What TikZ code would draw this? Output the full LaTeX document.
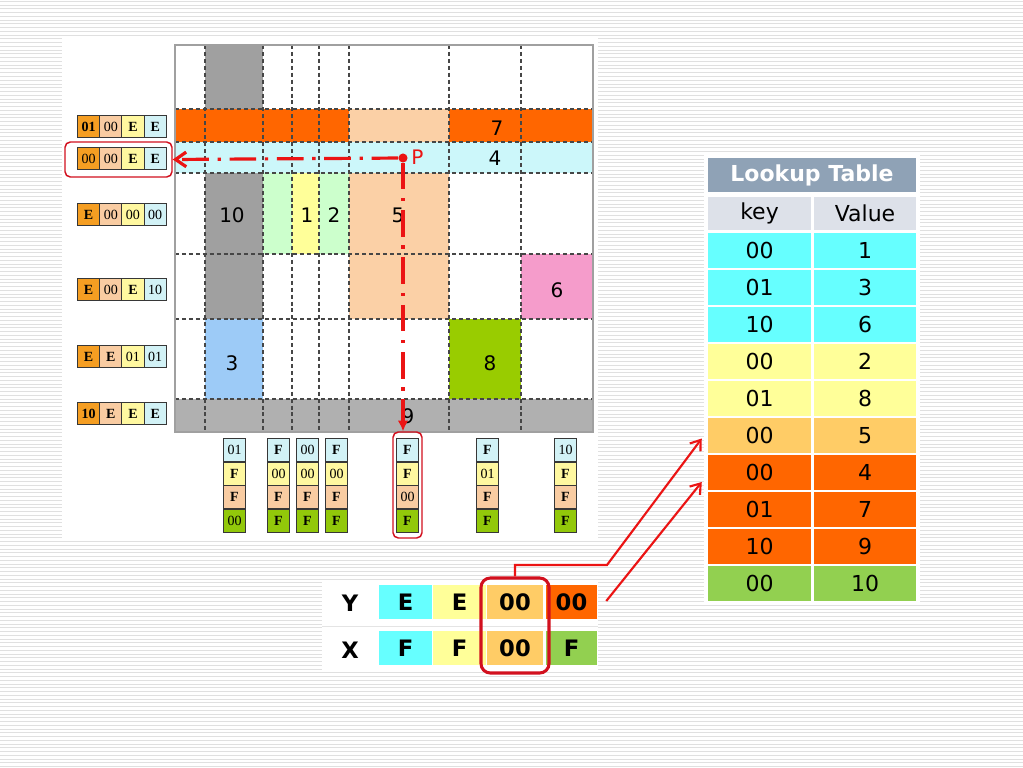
\documentclass[tikz,border=0pt]{standalone}
\usepackage{fontspec}
\setmainfont{Liberation Serif}
\newfontfamily\vfont{DejaVu Sans}
\usetikzlibrary{arrows.meta,calc}
\definecolor{stripe}{RGB}{224,224,224}
\definecolor{cbBorder}{RGB}{55,55,55}
\definecolor{gLine}{RGB}{70,70,70}
\definecolor{gFrame}{RGB}{160,160,160}
\definecolor{rowLine}{RGB}{228,228,228}
\definecolor{cbOr}{RGB}{245,158,34}
\definecolor{cbPe}{RGB}{249,204,162}
\definecolor{cbYe}{RGB}{255,248,160}
\definecolor{cbCy}{RGB}{210,242,246}
\definecolor{cbGr}{RGB}{146,200,10}
\definecolor{gGray}{RGB}{160,160,160}
\definecolor{gGray2}{RGB}{176,176,176}
\definecolor{gOr}{RGB}{255,102,0}
\definecolor{gPe}{RGB}{251,208,166}
\definecolor{gCy}{RGB}{204,247,250}
\definecolor{gLGr}{RGB}{204,255,204}
\definecolor{gYe}{RGB}{255,255,153}
\definecolor{gPk}{RGB}{245,156,203}
\definecolor{gBl}{RGB}{157,203,247}
\definecolor{gGr}{RGB}{153,204,0}
\definecolor{tHd}{RGB}{143,162,182}
\definecolor{tKh}{RGB}{221,225,233}
\definecolor{tCy}{RGB}{102,255,255}
\definecolor{tYe}{RGB}{255,255,153}
\definecolor{tLo}{RGB}{255,204,102}
\definecolor{tOr}{RGB}{255,102,0}
\definecolor{tGr}{RGB}{146,208,80}
\definecolor{selred}{RGB}{210,16,30}
\definecolor{arred}{RGB}{235,20,20}
\begin{document}
\begin{tikzpicture}[x=0.75pt,y=-0.75pt,
  codecell/.style={draw=cbBorder, line width=0.75pt,
    minimum width=16.6pt, minimum height=16.5pt, inner sep=0pt, anchor=north west,
    font=\fontsize{10.5}{10.5}\selectfont},
  colcell/.style={codecell, minimum width=16.5pt, minimum height=17.6pt},
  gridline/.style={draw=gLine, line width=0.8pt, dash pattern=on 3pt off 2.2pt},
  gridnum/.style={font=\vfont\fontsize{15}{15}\selectfont, inner sep=0pt},
  lkcell/.style={draw=white, line width=1.1pt, minimum width=78pt, minimum height=27.75pt,
    inner sep=0pt, font=\vfont\fontsize{16.5}{16.5}\selectfont},
  yxcell/.style={minimum height=25.5pt, inner sep=0pt, font=\vfont\bfseries\fontsize{17}{17}\selectfont},
  selbox/.style={draw=selred, line width=1.1pt, rounded corners=4pt, inner sep=0pt},
  dashdot/.style={draw=arred, line width=2.4pt, dash pattern=on 20pt off 6.5pt on 2.5pt off 6.5pt},
  conn/.style={draw=arred, line width=1.6pt, -{Straight Barb[length=7pt,width=10pt]}}
]
\useasboundingbox (0,0) rectangle (1023,767);
\fill[white] (0,0) rectangle (1023,767);
\foreach \yy in {1.5,5.25,...,767} \draw[stripe, line width=0.75pt] (0,\yy) -- (1023,\yy);
% white panels
\fill[white] (62,37) rectangle (598,540);
\fill[white] (322,580) rectangle (598,670);
\fill[white] (704,154) rectangle (920,605);
% ---------- grid fills ----------
\fill[gGray] (205,45) rectangle (263,109);
\fill[gGray] (205,173) rectangle (263,319);
\fill[gOr] (175,109) rectangle (349,142);
\fill[gPe] (349,109) rectangle (449,142);
\fill[gOr] (449,109) rectangle (593,142);
\fill[gCy] (175,142) rectangle (593,173);
\fill[gLGr] (263,173) rectangle (292,254);
\fill[gYe] (292,173) rectangle (319,254);
\fill[gLGr] (319,173) rectangle (349,254);
\fill[gPe] (349,173) rectangle (449,319);
\fill[gPk] (521,254) rectangle (593,319);
\fill[gBl] (205,319) rectangle (263,399);
\fill[gGr] (449,319) rectangle (521,399);
\fill[gGray2] (175,399) rectangle (593,432);
\foreach \xx in {205,263,292,319,349,449,521} \draw[gridline] (\xx,45) -- (\xx,432);
\foreach \yy in {109,142,173,254,319,399} \draw[gridline] (175,\yy) -- (593,\yy);
\draw[gFrame, line width=1.2pt] (175,45) rectangle (593,432);
% grid labels
\node[gridnum] (n7) at (497,128) {7};
\node[gridnum] (n4) at (495,158) {4};
\node[gridnum] (n10) at (232,215) {10};
\node[gridnum] (n1) at (307,215) {1};
\node[gridnum] (n2) at (334,215) {2};
\node[gridnum] (n5) at (398,215) {5};
\node[gridnum] (n6) at (557,290) {6};
\node[gridnum] (n3) at (232,363) {3};
\node[gridnum] (n8) at (490,363) {8};
\node[gridnum] (n9) at (408,416) {9};
% ---------- left code rows ----------
\foreach \r/\yy/\a/\b/\c/\d in {1/115/\textbf{01}/00/\textbf{E}/\textbf{E},
  2/147/00/00/\textbf{E}/\textbf{E},
  3/203/\textbf{E}/00/00/00,
  4/278/\textbf{E}/00/\textbf{E}/10,
  5/345/\textbf{E}/\textbf{E}/01/01,
  6/402/\textbf{10}/\textbf{E}/\textbf{E}/\textbf{E}}{
  \node[codecell, fill=cbOr] (L\r c1) at (77,\yy) {\a};
  \node[codecell, fill=cbPe] (L\r c2) at (99.2,\yy) {\b};
  \node[codecell, fill=cbYe] (L\r c3) at (121.4,\yy) {\c};
  \node[codecell, fill=cbCy] (L\r c4) at (143.6,\yy) {\d};
}
% ---------- bottom code columns ----------
\foreach \k/\xx/\a/\b/\c/\d in {1/223/01/\textbf{F}/\textbf{F}/00,
  2/267/\textbf{F}/00/\textbf{F}/\textbf{F},
  3/296/00/00/\textbf{F}/\textbf{F},
  4/325/\textbf{F}/00/\textbf{F}/\textbf{F},
  5/396/\textbf{F}/\textbf{F}/00/\textbf{F},
  6/476/\textbf{F}/01/\textbf{F}/\textbf{F},
  7/554/10/\textbf{F}/\textbf{F}/\textbf{F}}{
  \node[colcell, fill=cbCy] (B\k r1) at (\xx,438) {\a};
  \node[colcell, fill=cbYe] (B\k r2) at (\xx,461.5) {\b};
  \node[colcell, fill=cbPe] (B\k r3) at (\xx,485) {\c};
  \node[colcell, fill=cbGr] (B\k r4) at (\xx,508.5) {\d};
}
% selection boxes
\node[selbox, minimum width=80.25pt, minimum height=26.25pt] (lsel) at (118.5,159.5) {};
\node[selbox, minimum width=21.75pt, minimum height=79.5pt] (bsel) at (407.5,485) {};
% point P and dash-dot arrows
\node[circle, fill=arred, minimum size=6.8pt, inner sep=0pt] (P) at (403,158) {};
\node[font=\vfont\fontsize{15}{15}\selectfont, text=arred, inner sep=0pt, anchor=west] (Plab) at (411,157) {P};
\draw[dashdot, -{Straight Barb[length=8pt,width=11pt]}] (P) -- (lsel.east);
\coordinate (vtip) at (P |- bsel.north);
\draw[dashdot, -{Latex[length=8pt,width=8pt]}] (P) -- (vtip);
% ---------- lookup table ----------
\node[draw=white, line width=1.1pt, fill=tHd, minimum width=157.5pt, minimum height=27pt, inner sep=0pt,
  text=white, font=\vfont\bfseries\fontsize{16.5}{16.5}\selectfont] (hdr) at (812,175) {Lookup Table};
\node[lkcell, fill=tKh, minimum height=26.5pt] (kh) at (759.5,213.5) {key};
\node[lkcell, fill=tKh, minimum height=26.5pt] (vh) at (865,213.5) {Value};
\foreach \i/\k/\v/\col in {1/00/1/tCy, 2/01/3/tCy, 3/10/6/tCy, 4/00/2/tYe, 5/01/8/tYe,
  6/00/5/tLo, 7/00/4/tOr, 8/01/7/tOr, 9/10/9/tOr, 10/00/10/tGr}{
  \node[lkcell, fill=\col] (K\i) at (759.5,{250.5+37*(\i-1)}) {\k};
  \node[lkcell, fill=\col] (V\i) at (865,{250.5+37*(\i-1)}) {\v};
}
% ---------- Y / X table ----------
\draw[rowLine, line width=0.6pt] (322,626) -- (598,626);
\node[yxcell] (Ylab) at (350,603) {Y};
\node[yxcell] (Xlab) at (350,650) {X};
\node[yxcell, fill=tCy, minimum width=39.75pt] (Y1) at (405.5,602) {E};
\node[yxcell, fill=tYe, minimum width=39.75pt] (Y2) at (459.5,602) {E};
\node[yxcell, fill=tLo, minimum width=42pt] (Y3) at (515,602) {00};
\node[yxcell, fill=tOr, minimum width=38.25pt] (Y4) at (571.5,602) {00};
\node[yxcell, fill=tCy, minimum width=39.75pt] (X1) at (405.5,648) {F};
\node[yxcell, fill=tYe, minimum width=39.75pt] (X2) at (459.5,648) {F};
\node[yxcell, fill=tLo, minimum width=42pt] (X3) at (515,648) {00};
\node[yxcell, fill=tGr, minimum width=38.25pt] (X4) at (571.5,648) {F};
\node[selbox, line width=2.3pt, rounded corners=7pt, minimum width=51pt, minimum height=71.25pt] (ysel) at (515,625.5) {};
% connectors to lookup table
\coordinate (bend) at (607,565);
\coordinate (t1) at ($(K6.west)+(-5,3)$);
\draw[conn] (ysel.north) |- (bend) -- (t1);
\coordinate (s2) at ($(Y4.east)+(9,-1)$);
\coordinate (t2) at ($(K7.west)+(-5,9.5)$);
\draw[conn] (s2) -- (t2);
\end{tikzpicture}
\end{document}
